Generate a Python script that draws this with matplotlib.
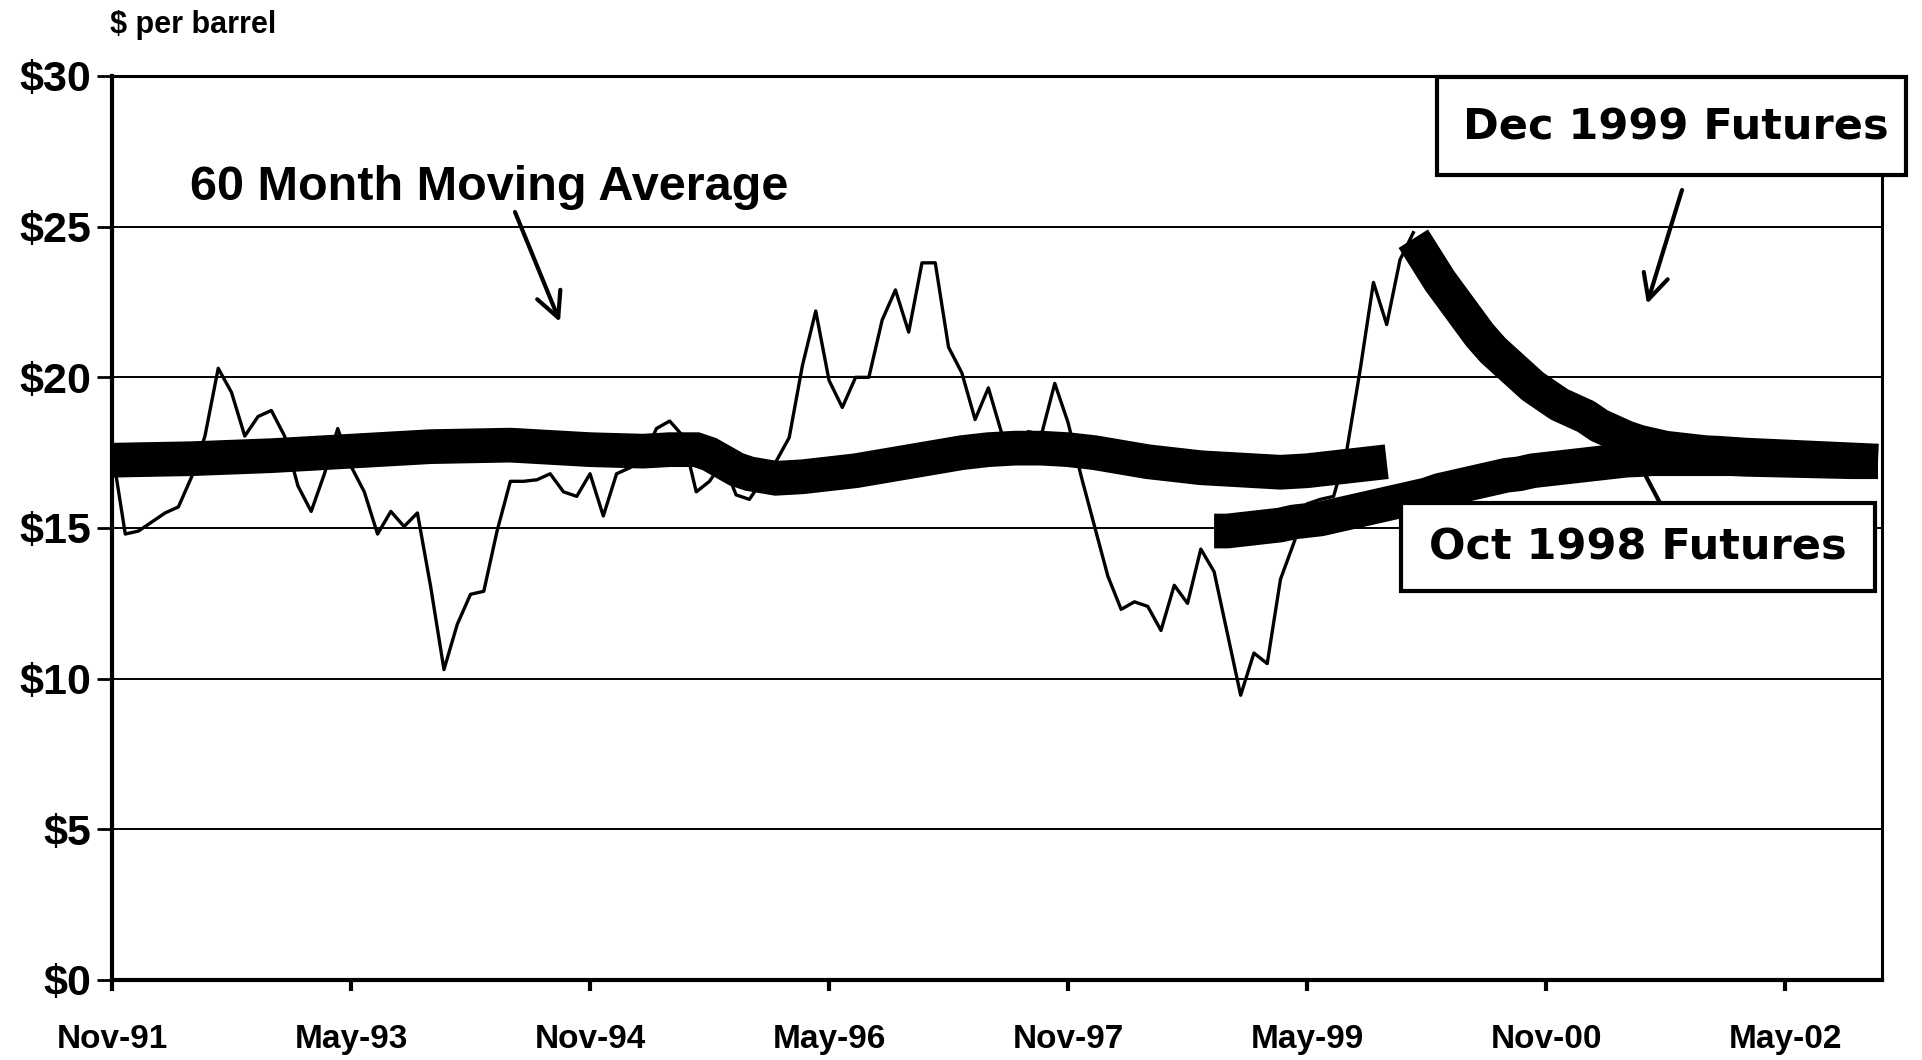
import matplotlib
matplotlib.use("Agg")
import matplotlib.pyplot as plt
from matplotlib.patches import Rectangle
from matplotlib import font_manager as fm

# ---------------- data ----------------
x_tick_months = [0, 18, 36, 54, 72, 90, 108, 126]
x_tick_labels = ["Nov-91", "May-93", "Nov-94", "May-96", "Nov-97", "May-99", "Nov-00", "May-02"]
y_ticks = [0, 5, 10, 15, 20, 25, 30]
y_tick_labels = ["$0", "$5", "$10", "$15", "$20", "$25", "$30"]

# monthly spot price, starting Nov-91 (month 0)
spot_prices = [17.6, 14.8, 14.9, 15.2, 15.5, 15.7, 16.7, 18.05, 20.3, 19.5,
               18.05, 18.7, 18.9, 18.05, 16.4, 15.55, 16.8, 18.3, 17.05, 16.2,
               14.8, 15.55, 15.05, 15.5, 13.05, 10.3, 11.8, 12.8, 12.9, 14.9,
               16.55, 16.55, 16.6, 16.8, 16.2, 16.05, 16.8, 15.4, 16.8, 17.0,
               17.3, 18.3, 18.55, 18.05, 16.2, 16.55, 17.2, 16.1, 15.95, 16.6,
               17.2, 18.0, 20.4, 22.2, 19.9, 19.0, 20.0, 20.0, 21.9, 22.9,
               21.5, 23.8, 23.8, 21.0, 20.15, 18.6, 19.65, 18.15, 17.6, 18.2,
               18.1, 19.8, 18.5, 16.7, 15.05, 13.4, 12.3, 12.55, 12.4, 11.6,
               13.1, 12.5, 14.3, 13.55, 11.5, 9.45, 10.85, 10.5, 13.3, 14.5,
               15.8, 15.95, 16.05, 17.6, 20.25, 23.15, 21.75, 23.9, 24.8]

# 60 month moving average
ma_months = [0, 6, 12, 18, 24, 30, 36, 40, 42, 44, 45, 46, 47, 48, 50, 52, 54, 56,
             58, 60, 62, 64, 66, 68, 70, 72, 74, 76, 78, 80, 82, 84, 86, 88, 90,
             92, 94, 96]
ma_values = [17.25, 17.3, 17.4, 17.55, 17.7, 17.75, 17.6, 17.55, 17.6, 17.6, 17.45,
             17.2, 16.95, 16.8, 16.65, 16.7, 16.8, 16.9, 17.05, 17.2, 17.35, 17.5,
             17.6, 17.65, 17.65, 17.6, 17.5, 17.35, 17.2, 17.1, 17.0, 16.95, 16.9,
             16.85, 16.9, 17.0, 17.1, 17.2]

# Oct 1998 futures strip (first month 83)
oct_start = 83
oct_values = [14.9, 14.9, 14.95, 15.0, 15.05, 15.1, 15.2, 15.25, 15.3, 15.4,
              15.5, 15.6, 15.7, 15.8, 15.9, 16.0, 16.1, 16.25, 16.35, 16.45,
              16.55, 16.65, 16.75, 16.8, 16.9, 16.95, 17.0, 17.05, 17.1, 17.15,
              17.2, 17.25, 17.27, 17.3, 17.3, 17.3, 17.3, 17.3, 17.3, 17.3,
              17.28, 17.27, 17.26, 17.25, 17.24, 17.23, 17.22, 17.21, 17.2, 17.2,
              17.2]

# Dec 1999 futures strip (first month 98)
dec_start = 98
dec_values = [24.6, 23.9, 23.2, 22.6, 22.0, 21.4, 20.9, 20.5, 20.1, 19.7,
              19.4, 19.1, 18.9, 18.7, 18.4, 18.2, 18.0, 17.85, 17.75, 17.65,
              17.6, 17.55, 17.5, 17.48, 17.45, 17.42, 17.4, 17.38, 17.36, 17.34,
              17.32, 17.3, 17.28, 17.26, 17.24, 17.22]

# ---------------- fonts ----------------
names = {f.name for f in fm.fontManager.ttflist}
ARIAL = "Liberation Sans"
NARROW = "Liberation Sans Narrow" if "Liberation Sans Narrow" in names else "Liberation Sans"
VERDANA = "DejaVu Sans"
xtick_size = 28 if NARROW == "Liberation Sans Narrow" else 24

# ---------------- figure ----------------
W, H = 1922, 1060
fig = plt.figure(figsize=(W / 100, H / 100), dpi=100)
fig.patch.set_facecolor("white")

L, R, T, B = 112, 1882, 76, 980
ax = fig.add_axes([L / W, 1 - B / H, (R - L) / W, (B - T) / H])
ax.set_xlim(0, 133.3)
ax.set_ylim(0, 30)

for y in y_ticks[1:-1]:
    ax.axhline(y, color="black", lw=1.4, zorder=1)

spot_months = list(range(len(spot_prices)))
ax.plot(spot_months, spot_prices, color="black", lw=2.4, zorder=2)

band = 25
ax.plot(ma_months, ma_values, color="black", lw=band, solid_capstyle="butt",
        solid_joinstyle="miter", zorder=4)
oct_months = list(range(oct_start, oct_start + len(oct_values)))
ax.plot(oct_months, oct_values, color="black", lw=band, solid_capstyle="butt", zorder=4)
dec_months = list(range(dec_start, dec_start + len(dec_values)))
ax.plot(dec_months, dec_values, color="black", lw=band, solid_capstyle="butt", zorder=4)

# axes styling
for side in ["left", "bottom"]:
    ax.spines[side].set_linewidth(3.0)
for side in ["top", "right"]:
    ax.spines[side].set_linewidth(2.2)
for s in ax.spines.values():
    s.set_zorder(6)

ax.set_xticks(x_tick_months)
ax.set_xticklabels(x_tick_labels, fontfamily=NARROW, fontweight="bold", fontsize=xtick_size)
ax.set_yticks(y_ticks)
ax.set_yticklabels(y_tick_labels, fontfamily=ARIAL, fontweight="bold", fontsize=31)
ax.tick_params(axis="x", direction="out", length=8, width=3, pad=24)
ax.tick_params(axis="y", direction="out", length=11, width=2, pad=4)

# ---------------- annotations ----------------
fig.text(110 / W, 1 - 25 / H, "$ per barrel", fontfamily=ARIAL, fontweight="bold",
         fontsize=22, ha="left", va="center")

fig.text(489 / W, 1 - 200 / H, "60 Month Moving Average", fontfamily=ARIAL,
         fontweight="bold", fontsize=35, ha="center", va="baseline")
ax.annotate("", xy=(560 / W, 1 - 322 / H), xytext=(515 / W, 1 - 212 / H),
            xycoords="figure fraction", textcoords="figure fraction",
            arrowprops=dict(arrowstyle="->", lw=3, color="black",
                            mutation_scale=45, shrinkA=0, shrinkB=0),
            annotation_clip=False, zorder=7)

# Dec 1999 futures box
fig.patches.append(Rectangle((1437 / W, 1 - 175 / H), (1906 - 1437) / W, (175 - 77) / H,
                             transform=fig.transFigure, facecolor="white",
                             edgecolor="black", lw=3, zorder=8))
fig.text(1676 / W, 1 - 128 / H, "Dec 1999 Futures", fontfamily=VERDANA,
         fontweight="bold", fontsize=31, ha="center", va="center", zorder=9)
ax.annotate("", xy=(1647 / W, 1 - 304 / H), xytext=(1682 / W, 1 - 190 / H),
            xycoords="figure fraction", textcoords="figure fraction",
            arrowprops=dict(arrowstyle="->", lw=3, color="black",
                            mutation_scale=45, shrinkA=0, shrinkB=0),
            annotation_clip=False, zorder=7)

# Oct 1998 futures box
ax.annotate("", xy=(1640 / W, 1 - 465 / H), xytext=(1660 / W, 1 - 503 / H),
            xycoords="figure fraction", textcoords="figure fraction",
            arrowprops=dict(arrowstyle="-", lw=3, color="black", shrinkA=0, shrinkB=0),
            annotation_clip=False, zorder=3)
fig.patches.append(Rectangle((1401 / W, 1 - 591 / H), (1875 - 1401) / W, (591 - 503) / H,
                             transform=fig.transFigure, facecolor="white",
                             edgecolor="black", lw=3, zorder=8))
fig.text(1638 / W, 1 - 548 / H, "Oct 1998 Futures", fontfamily=VERDANA,
         fontweight="bold", fontsize=31, ha="center", va="center", zorder=9)

fig.savefig("out.png", dpi=100, facecolor="white")
